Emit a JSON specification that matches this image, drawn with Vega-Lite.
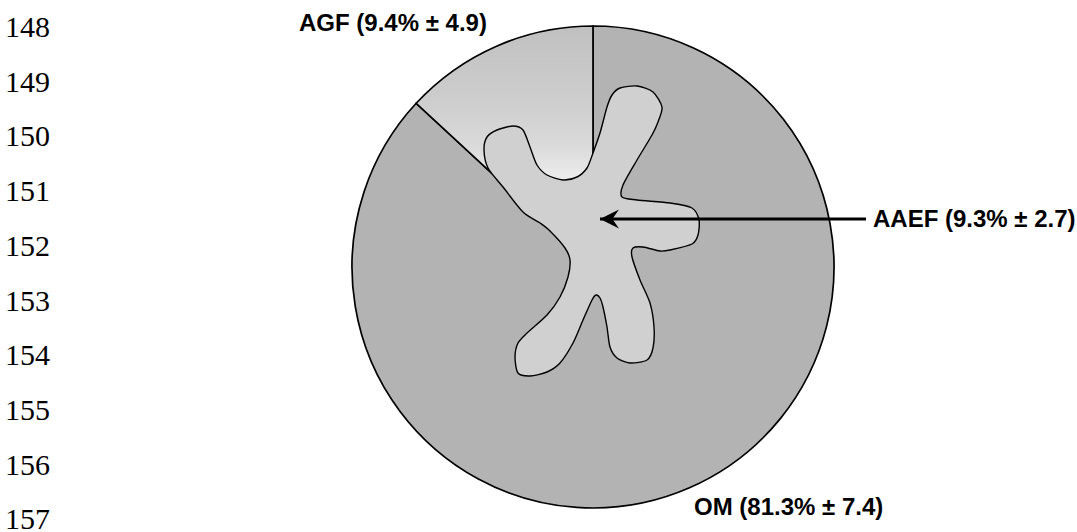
{
  "$schema": "https://vega.github.io/schema/vega-lite/v6.json",
  "width": 1077,
  "height": 532,
  "autosize": "none",
  "padding": 0,
  "background": "white",
  "config": {"view": {"stroke": null}},
  "datasets": {
    "pie": [
      {"part": "OM", "start": 0, "end": 312.8},
      {"part": "AGF", "start": 312.8, "end": 360}
    ],
    "blob": [
      {"seq": 1, "x": 0, "y": 114}, {"seq": 2, "x": 7, "y": 134}, {"seq": 3, "x": 14, "y": 160},
      {"seq": 4, "x": 19, "y": 172}, {"seq": 5, "x": 27, "y": 179}, {"seq": 6, "x": 44, "y": 181},
      {"seq": 7, "x": 60, "y": 175}, {"seq": 8, "x": 69, "y": 160}, {"seq": 9, "x": 65, "y": 145},
      {"seq": 10, "x": 59, "y": 132}, {"seq": 11, "x": 44, "y": 107}, {"seq": 12, "x": 30, "y": 82},
      {"seq": 13, "x": 29, "y": 70}, {"seq": 14, "x": 44, "y": 67}, {"seq": 15, "x": 77, "y": 64},
      {"seq": 16, "x": 99, "y": 59}, {"seq": 17, "x": 106, "y": 47}, {"seq": 18, "x": 105, "y": 32},
      {"seq": 19, "x": 99, "y": 23}, {"seq": 20, "x": 77, "y": 17}, {"seq": 21, "x": 67, "y": 16},
      {"seq": 22, "x": 50, "y": 20}, {"seq": 23, "x": 40, "y": 19}, {"seq": 24, "x": 39, "y": 10},
      {"seq": 25, "x": 47, "y": -13}, {"seq": 26, "x": 57, "y": -36}, {"seq": 27, "x": 61, "y": -60},
      {"seq": 28, "x": 60, "y": -81}, {"seq": 29, "x": 54, "y": -93}, {"seq": 30, "x": 37, "y": -96},
      {"seq": 31, "x": 24, "y": -91}, {"seq": 32, "x": 17, "y": -80}, {"seq": 33, "x": 14, "y": -60},
      {"seq": 34, "x": 10, "y": -40}, {"seq": 35, "x": 7, "y": -31}, {"seq": 36, "x": 3, "y": -28},
      {"seq": 37, "x": -1, "y": -33}, {"seq": 38, "x": -10, "y": -53}, {"seq": 39, "x": -20, "y": -76},
      {"seq": 40, "x": -33, "y": -96}, {"seq": 41, "x": -46, "y": -105}, {"seq": 42, "x": -63, "y": -109},
      {"seq": 43, "x": -75, "y": -106}, {"seq": 44, "x": -78, "y": -90}, {"seq": 45, "x": -75, "y": -76},
      {"seq": 46, "x": -66, "y": -66}, {"seq": 47, "x": -46, "y": -48}, {"seq": 48, "x": -33, "y": -30},
      {"seq": 49, "x": -25, "y": -10}, {"seq": 50, "x": -23, "y": 7}, {"seq": 51, "x": -28, "y": 19},
      {"seq": 52, "x": -43, "y": 36}, {"seq": 53, "x": -53, "y": 44}, {"seq": 54, "x": -70, "y": 55},
      {"seq": 55, "x": -90, "y": 80}, {"seq": 56, "x": -105, "y": 99}, {"seq": 57, "x": -109, "y": 117},
      {"seq": 58, "x": -106, "y": 130}, {"seq": 59, "x": -96, "y": 137}, {"seq": 60, "x": -80, "y": 141},
      {"seq": 61, "x": -70, "y": 137}, {"seq": 62, "x": -63, "y": 120}, {"seq": 63, "x": -56, "y": 102},
      {"seq": 64, "x": -46, "y": 92}, {"seq": 65, "x": -30, "y": 87}, {"seq": 66, "x": -16, "y": 90},
      {"seq": 67, "x": -6, "y": 99}
    ],
    "arrow": [{"x": 7, "x2": 273, "y": 48}],
    "lines": [
      {"n": "148", "x": -588, "y": 230}, {"n": "149", "x": -588, "y": 175.3},
      {"n": "150", "x": -588, "y": 120.6}, {"n": "151", "x": -588, "y": 65.9},
      {"n": "152", "x": -588, "y": 11.2}, {"n": "153", "x": -588, "y": -43.5},
      {"n": "154", "x": -588, "y": -98.2}, {"n": "155", "x": -588, "y": -152.9},
      {"n": "156", "x": -588, "y": -207.6}, {"n": "157", "x": -588, "y": -262.3}
    ],
    "labels": [
      {"label": "AGF (9.4% ± 4.9)", "x": -294, "y": 236},
      {"label": "AAEF (9.3% ± 2.7)", "x": 280, "y": 40},
      {"label": "OM (81.3% ± 7.4)", "x": 101, "y": -248}
    ]
  },
  "layer": [
    {
      "data": {"name": "pie"},
      "mark": {"type": "arc", "outerRadius": 241, "stroke": "black", "strokeWidth": 1.7},
      "encoding": {
        "x": {"datum": 0, "type": "quantitative", "scale": {"domain": [-593, 484], "nice": false, "zero": false}, "axis": null},
        "y": {"datum": 0, "type": "quantitative", "scale": {"domain": [-265, 267], "nice": false, "zero": false}, "axis": null},
        "theta": {"field": "start", "type": "quantitative", "stack": null, "scale": {"domain": [0, 360], "range": [0, 6.283185307]}},
        "theta2": {"field": "end"},
        "fill": {
          "condition": {
            "test": "datum.part === 'AGF'",
            "value": {"gradient": "linear", "x1": 0, "y1": 0, "x2": 0, "y2": 1,
              "stops": [
                {"offset": 0, "color": "#c0c0c0"},
                {"offset": 0.3, "color": "#cdcdcd"},
                {"offset": 0.5, "color": "#dadada"},
                {"offset": 0.62, "color": "#ebebeb"},
                {"offset": 1, "color": "#f8f8f8"}
              ]}
          },
          "value": "#b3b3b3"
        }
      }
    },
    {
      "data": {"name": "blob"},
      "mark": {"type": "line", "interpolate": "cardinal-closed", "tension": 0.2, "fill": "#d0d0d0", "stroke": "black", "strokeWidth": 1.4},
      "encoding": {
        "x": {"field": "x", "type": "quantitative", "scale": {"domain": [-593, 484], "nice": false, "zero": false}, "axis": null},
        "y": {"field": "y", "type": "quantitative", "scale": {"domain": [-265, 267], "nice": false, "zero": false}, "axis": null},
        "order": {"field": "seq", "type": "quantitative"}
      }
    },
    {
      "data": {"name": "arrow"},
      "mark": {"type": "rule", "stroke": "black", "strokeWidth": 3},
      "encoding": {
        "x": {"field": "x", "type": "quantitative", "scale": {"domain": [-593, 484], "nice": false, "zero": false}, "axis": null},
        "x2": {"field": "x2"},
        "y": {"field": "y", "type": "quantitative", "scale": {"domain": [-265, 267], "nice": false, "zero": false}, "axis": null}
      }
    },
    {
      "data": {"name": "arrow"},
      "mark": {"type": "point", "shape": "M0,0L2,-1L1.3,0L2,1Z", "size": 361, "filled": true, "fill": "black", "stroke": null, "opacity": 1},
      "encoding": {
        "x": {"field": "x", "type": "quantitative", "scale": {"domain": [-593, 484], "nice": false, "zero": false}, "axis": null},
        "y": {"field": "y", "type": "quantitative", "scale": {"domain": [-265, 267], "nice": false, "zero": false}, "axis": null}
      }
    },
    {
      "data": {"name": "lines"},
      "mark": {"type": "text", "font": "Liberation Serif", "fontSize": 30, "align": "left", "baseline": "alphabetic", "color": "black"},
      "encoding": {
        "x": {"field": "x", "type": "quantitative", "scale": {"domain": [-593, 484], "nice": false, "zero": false}, "axis": null},
        "y": {"field": "y", "type": "quantitative", "scale": {"domain": [-265, 267], "nice": false, "zero": false}, "axis": null},
        "text": {"field": "n"}
      }
    },
    {
      "data": {"name": "labels"},
      "mark": {"type": "text", "font": "Liberation Sans", "fontWeight": "bold", "fontSize": 24, "align": "left", "baseline": "alphabetic", "color": "black"},
      "encoding": {
        "x": {"field": "x", "type": "quantitative", "scale": {"domain": [-593, 484], "nice": false, "zero": false}, "axis": null},
        "y": {"field": "y", "type": "quantitative", "scale": {"domain": [-265, 267], "nice": false, "zero": false}, "axis": null},
        "text": {"field": "label"}
      }
    }
  ]
}
